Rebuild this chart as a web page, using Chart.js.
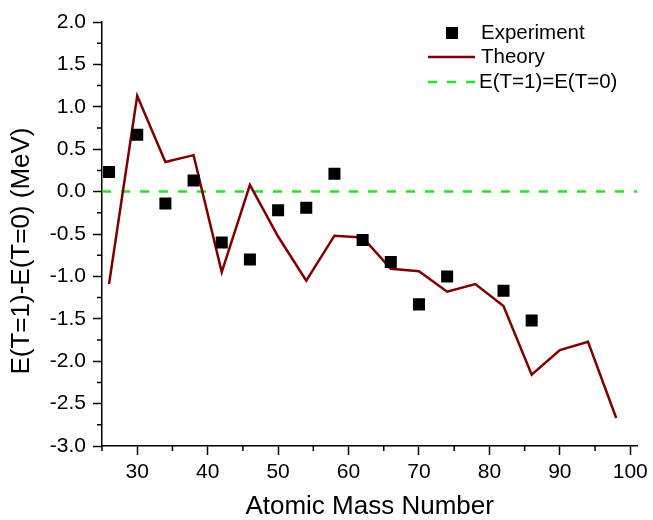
<!DOCTYPE html>
<html>
<head>
<meta charset="utf-8">
<script src="https://cdn.jsdelivr.net/npm/chart.js@4.4.0/dist/chart.umd.min.js"></script>
<style>
  body { margin: 0; background: #fff; }
</style>
</head>
<body>
<canvas id="chart" width="653" height="520"></canvas>
<script>
// experimental points
const expA = [26, 30, 34, 38, 42, 46, 50, 54, 58, 62, 66, 70, 74, 82, 86];
const expE = [0.23, 0.67, -0.14, 0.13, -0.60, -0.80, -0.22, -0.19, 0.21, -0.57, -0.83, -1.33, -1.00, -1.17, -1.52];

// theory curve
const theoA = [26, 30, 34, 38, 42, 46, 50, 54, 58, 62, 66, 70, 74, 78, 82, 86, 90, 94, 98];
const theoE = [-1.09, 1.13, 0.35, 0.43, -0.95, 0.08, -0.53, -1.05, -0.52, -0.54, -0.91, -0.94, -1.18, -1.09, -1.35, -2.16, -1.87, -1.77, -2.67];

// E(T=1)=E(T=0) reference line
const zeroA = [25, 101];
const zeroE = [0, 0];

// axis ticks
const xTicks = [30, 40, 50, 60, 70, 80, 90, 100];
const xMinor = [25, 35, 45, 55, 65, 75, 85, 95];
const yTicks = [2.0, 1.5, 1.0, 0.5, 0.0, -0.5, -1.0, -1.5, -2.0, -2.5, -3.0];
const yMinor = [1.75, 1.25, 0.75, 0.25, -0.25, -0.75, -1.25, -1.75, -2.25, -2.75];

const yTitle = "E(T=1)-E(T=0) (MeV)";

const toXY = (xs, ys) => xs.map((x, i) => ({ x: x, y: ys[i] }));

const FONT = "'Liberation Sans', Arial, sans-serif";

// minor ticks, drawn with the chart's own scales
const minorTicks = {
  id: "minorTicks",
  afterDraw(chart) {
    const ctx = chart.ctx;
    const xs = chart.scales.x, ys = chart.scales.y;
    const area = chart.chartArea;
    ctx.save();
    ctx.strokeStyle = "#000";
    ctx.lineWidth = 1.5;
    ctx.beginPath();
    xMinor.forEach(v => {
      const px = xs.getPixelForValue(v);
      ctx.moveTo(px, area.bottom);
      ctx.lineTo(px, area.bottom + 5);
    });
    yMinor.forEach(v => {
      const py = ys.getPixelForValue(v);
      ctx.moveTo(area.left, py);
      ctx.lineTo(area.left - 5, py);
    });
    ctx.stroke();
    ctx.restore();
  }
};

// y title sits a bit below the middle in the original, so draw it by hand
const sideTitle = {
  id: "sideTitle",
  afterDraw(chart) {
    const ctx = chart.ctx;
    ctx.save();
    ctx.translate(22, 251);
    ctx.rotate(-Math.PI / 2);
    ctx.font = "26px " + FONT;
    ctx.fillStyle = "#000";
    ctx.textAlign = "center";
    ctx.textBaseline = "middle";
    ctx.fillText(yTitle, 0, 0);
    ctx.restore();
  }
};

// legend in the upper right, like the original figure
const cornerLegend = {
  id: "cornerLegend",
  afterDraw(chart) {
    const ctx = chart.ctx;
    const ds = chart.data.datasets;
    const rows = [33, 57, 82];
    ctx.save();
    ctx.font = "20.5px " + FONT;
    ctx.textBaseline = "middle";
    ctx.textAlign = "left";

    // Experiment
    ctx.fillStyle = ds[0].backgroundColor;
    ctx.fillRect(446, rows[0] - 6, 12, 12);
    ctx.fillStyle = "#000";
    ctx.fillText(ds[0].label, 481, rows[0]);

    // Theory
    ctx.strokeStyle = ds[1].borderColor;
    ctx.lineWidth = ds[1].borderWidth;
    ctx.beginPath();
    ctx.moveTo(428, rows[1]);
    ctx.lineTo(475, rows[1]);
    ctx.stroke();
    ctx.fillText(ds[1].label, 481, rows[1]);

    // reference line
    ctx.strokeStyle = ds[2].borderColor;
    ctx.lineWidth = ds[2].borderWidth;
    ctx.setLineDash(ds[2].borderDash);
    ctx.beginPath();
    ctx.moveTo(428, rows[2]);
    ctx.lineTo(475, rows[2]);
    ctx.stroke();
    ctx.setLineDash([]);
    ctx.fillText(ds[2].label, 479, rows[2]);
    ctx.restore();
  }
};

new Chart(document.getElementById("chart"), {
  type: "scatter",
  data: {
    datasets: [
      {
        label: "Experiment",
        data: toXY(expA, expE),
        pointStyle: "rect",
        pointRadius: 8.5,
        pointBorderWidth: 0,
        backgroundColor: "#000",
        borderColor: "#000",
        order: 0
      },
      {
        label: "Theory",
        data: toXY(theoA, theoE),
        showLine: true,
        pointRadius: 0,
        borderColor: "#800000",
        borderWidth: 2.5,
        order: 1
      },
      {
        label: "E(T=1)=E(T=0)",
        data: toXY(zeroA, zeroE),
        showLine: true,
        pointRadius: 0,
        borderColor: "#22e622",
        borderWidth: 2.5,
        borderDash: [9, 10],
        order: 2
      }
    ]
  },
  options: {
    responsive: false,
    animation: false,
    layout: { padding: { top: 22, right: 15, left: 0, bottom: 0 } },
    plugins: {
      legend: { display: false },
      tooltip: { enabled: false }
    },
    scales: {
      x: {
        type: "linear",
        min: 25,
        max: 101,
        afterFit: s => { s.height = 74; },
        afterBuildTicks: s => { s.ticks = xTicks.map(v => ({ value: v })); },
        border: { color: "#000", width: 1.5 },
        grid: { drawOnChartArea: false, color: "#000", tickLength: 9, tickWidth: 1.5 },
        ticks: {
          color: "#000",
          font: { family: FONT, size: 21 },
          padding: 5,
          maxRotation: 0,
          callback: v => String(v)
        },
        title: {
          display: true,
          text: "Atomic Mass Number",
          color: "#000",
          font: { family: FONT, size: 26, lineHeight: 1 },
          padding: { top: 0, bottom: 0 }
        }
      },
      y: {
        type: "linear",
        min: -3,
        max: 2,
        afterFit: s => { s.width = 102; },
        afterBuildTicks: s => { s.ticks = yTicks.map(v => ({ value: v })); },
        border: { color: "#000", width: 1.5 },
        grid: { drawOnChartArea: false, color: "#000", tickLength: 9, tickWidth: 1.5 },
        ticks: {
          color: "#000",
          font: { family: FONT, size: 21 },
          padding: 7,
          callback: v => v.toFixed(1)
        }
      }
    }
  },
  plugins: [minorTicks, sideTitle, cornerLegend]
});
</script>
</body>
</html>
